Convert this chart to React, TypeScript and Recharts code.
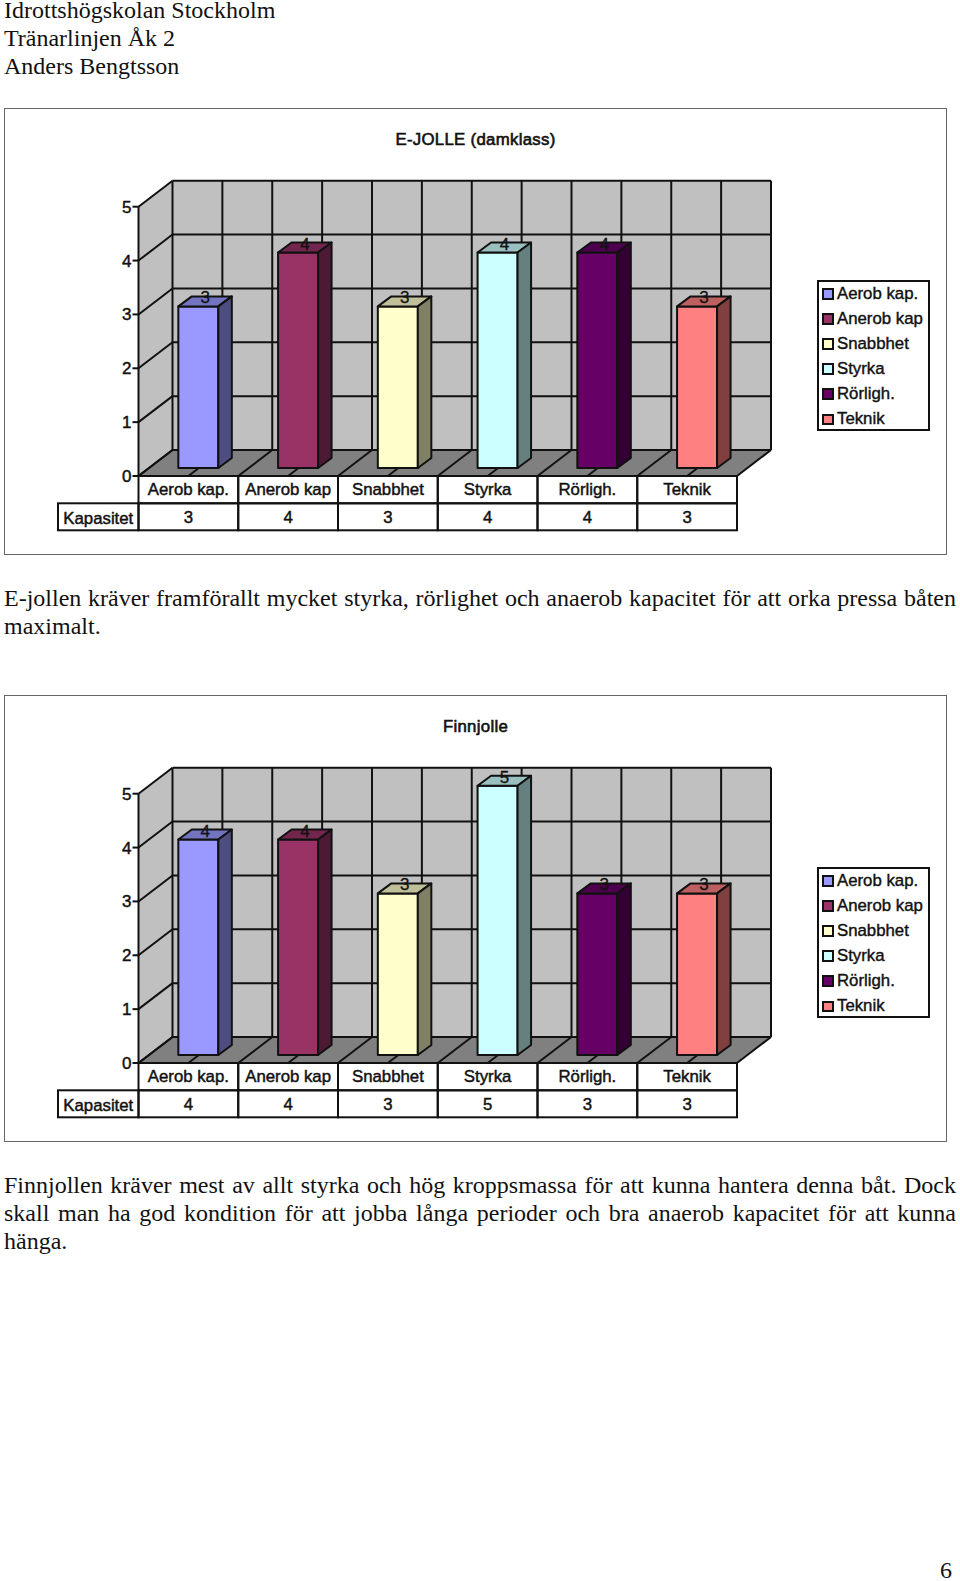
import React from "react";
import { BarChart, Bar, XAxis, YAxis, CartesianGrid, Legend, LabelList, Cell } from "recharts";

const categories = ["Aerob kap.", "Anerob kap", "Snabbhet", "Styrka", "Rörligh.", "Teknik"];
const colors = ["#9999FF", "#993366", "#FFFFCC", "#CCFFFF", "#660066", "#FF8080"];
const ejolleValues = [3, 4, 3, 4, 4, 3];
const finnjolleValues = [4, 4, 3, 5, 3, 3];
const yTicks = [0, 1, 2, 3, 4, 5];
const seriesName = "Kapasitet";

const headerLines = ["Idrottshögskolan Stockholm", "Tränarlinjen Åk 2", "Anders Bengtsson"];
const ejolleText = [
  "E-jollen kräver framförallt mycket styrka, rörlighet och anaerob kapacitet för att orka pressa båten",
  "maximalt.",
];
const finnjolleText = [
  "Finnjollen kräver mest av allt styrka och hög kroppsmassa för att kunna hantera denna båt. Dock",
  "skall man ha god kondition för att jobba långa perioder och bra anaerob kapacitet för att kunna",
  "hänga.",
];

const SANS = '"Liberation Sans", Arial, sans-serif';
const SERIF = '"Liberation Serif", "Times New Roman", serif';

// plot box (front plane of the 3D box), relative to the chart svg
const CHART_W = 960;
const CHART_H = 447;
const PLOT_L = 138.5;
const PLOT_R = 737;
const PLOT_T = 98.7;
const PLOT_B = 368;
const DEPTH_X = 34;
const DEPTH_Y = -26;
const BAND = (PLOT_R - PLOT_L) / 6;
const LINE = "#111";
const LINE_W = 2;

function shade(hex: string, k: number) {
  const n = parseInt(hex.slice(1), 16);
  const c = [(n >> 16) & 255, (n >> 8) & 255, n & 255].map((v) => Math.round(v * k));
  return `rgb(${c[0]},${c[1]},${c[2]})`;
}

// sits behind the transparent chart, the grid is drawn on top of it
function Walls() {
  const dx = DEPTH_X;
  const dy = DEPTH_Y;
  return (
    <svg width={CHART_W} height={CHART_H} style={{ position: "absolute", left: 0, top: 0 }}>
      <polygon
        points={`${PLOT_L + dx},${PLOT_T + dy} ${PLOT_R + dx},${PLOT_T + dy} ${PLOT_R + dx},${PLOT_B + dy} ${PLOT_L + dx},${PLOT_B + dy}`}
        fill="#C0C0C0"
      />
      <polygon
        points={`${PLOT_L},${PLOT_T} ${PLOT_L + dx},${PLOT_T + dy} ${PLOT_L + dx},${PLOT_B + dy} ${PLOT_L},${PLOT_B}`}
        fill="#C0C0C0"
      />
      <polygon
        points={`${PLOT_L},${PLOT_B} ${PLOT_R},${PLOT_B} ${PLOT_R + dx},${PLOT_B + dy} ${PLOT_L + dx},${PLOT_B + dy}`}
        fill="#808080"
      />
    </svg>
  );
}

function HLine(p: any) {
  return (
    <g key={p.key}>
      <line x1={p.x1} y1={p.y1} x2={p.x1 + DEPTH_X} y2={p.y1 + DEPTH_Y} stroke={LINE} strokeWidth={LINE_W} />
      <line x1={p.x1 + DEPTH_X} y1={p.y1 + DEPTH_Y} x2={p.x2 + DEPTH_X} y2={p.y1 + DEPTH_Y} stroke={LINE} strokeWidth={LINE_W} />
    </g>
  );
}

function VLine(p: any) {
  return (
    <g key={p.key}>
      <line x1={p.x1} y1={PLOT_B} x2={p.x1 + DEPTH_X} y2={PLOT_B + DEPTH_Y} stroke={LINE} strokeWidth={LINE_W} />
      <line x1={p.x1 + DEPTH_X} y1={PLOT_T + DEPTH_Y} x2={p.x1 + DEPTH_X} y2={PLOT_B + DEPTH_Y} stroke={LINE} strokeWidth={LINE_W} />
    </g>
  );
}

// cuboid bar: pushed a bit back into the box, with top and side faces
function Bar3D(props: any) {
  const { x, y, width, height, fill } = props;
  const fx = x + 10;
  const fy = y - 8;
  const sx = 13.5;
  const sy = -10;
  const stroke = { stroke: LINE, strokeWidth: LINE_W, strokeLinejoin: "round" as const };
  return (
    <g>
      <rect x={fx} y={fy} width={width} height={height} fill={fill} {...stroke} />
      <polygon
        points={`${fx},${fy} ${fx + sx},${fy + sy} ${fx + width + sx},${fy + sy} ${fx + width},${fy}`}
        fill={shade(fill, 0.75)}
        {...stroke}
      />
      <polygon
        points={`${fx + width},${fy} ${fx + width + sx},${fy + sy} ${fx + width + sx},${fy + height + sy} ${fx + width},${fy + height}`}
        fill={shade(fill, 0.5)}
        {...stroke}
      />
    </g>
  );
}

function BarValue(props: any) {
  const { x, y, width, value } = props;
  return (
    <text
      x={x + width / 2 + 17}
      y={y - 11}
      textAnchor="middle"
      fontFamily={SANS}
      fontSize={17}
      fill="#111"
      stroke="#111"
      strokeWidth={0.3}
    >
      {value}
    </text>
  );
}

function TableTick(props: any) {
  const { x, payload, values } = props;
  const l = x - BAND / 2;
  const y1 = PLOT_B;
  const y2 = PLOT_B + 27.3;
  const y3 = PLOT_B + 54.3;
  const text = { fontFamily: SANS, fontSize: 16.8, fill: "#111", stroke: "#111", strokeWidth: 0.45, textAnchor: "middle" as const };
  const box = { fill: "none", stroke: LINE, strokeWidth: LINE_W };
  return (
    <g>
      {payload.index === 0 && (
        <g>
          <rect x={58} y={y2} width={PLOT_L - 58} height={y3 - y2} {...box} />
          <text {...text} x={98.3} y={y2 + 21}>{seriesName}</text>
        </g>
      )}
      <rect x={l} y={y1} width={BAND} height={y2 - y1} {...box} />
      <rect x={l} y={y2} width={BAND} height={y3 - y2} {...box} />
      <text {...text} x={x} y={y1 + 19}>{payload.value}</text>
      <text {...text} x={x} y={y2 + 20}>{values[payload.index]}</text>
    </g>
  );
}

function YTick(props: any) {
  const { x, y, payload } = props;
  return (
    <text x={x} y={y + 6} textAnchor="end" fontFamily={SANS} fontSize={17} fill="#111" stroke="#111" strokeWidth={0.45}>
      {payload.value}
    </text>
  );
}

function ChartLegend() {
  return (
    <div
      style={{
        boxSizing: "border-box",
        width: 113.5,
        height: 151,
        background: "#fff",
        border: "2px solid #111",
        fontFamily: SANS,
        fontSize: 16.8,
        color: "#111",
        WebkitTextStroke: "0.4px #111",
      }}
    >
      {categories.map((c, i) => (
        <div key={c} style={{ position: "absolute", left: 5.5, top: 1.5 + i * 25.05, height: 25, display: "flex", alignItems: "center", whiteSpace: "nowrap" }}>
          <span
            style={{
              boxSizing: "border-box",
              display: "inline-block",
              width: 11.5,
              height: 11.5,
              background: colors[i],
              border: "2px solid #111",
              marginRight: 3.5,
            }}
          />
          {c}
        </div>
      ))}
    </div>
  );
}

interface BoatChartProps {
  title: string;
  values: number[];
  top: number;
}

function BoatChart({ title, values, top }: BoatChartProps) {
  const data = categories.map((name, i) => ({ name, value: values[i] }));
  return (
    <div style={{ position: "absolute", left: 0, top, width: CHART_W, height: CHART_H }}>
      <div
        style={{
          position: "absolute",
          left: 3.5,
          top: 0,
          width: 943,
          height: 447,
          boxSizing: "border-box",
          border: "1.5px solid #666",
        }}
      />
      <div
        style={{
          position: "absolute",
          left: 0,
          width: 951,
          top: 22,
          textAlign: "center",
          fontFamily: SANS,
          fontSize: 16.8,
          lineHeight: "20px",
          color: "#111",
          WebkitTextStroke: "0.6px #111",
          letterSpacing: 0.3,
        }}
      >
        {title}
      </div>
      <Walls />
      <BarChart
        width={CHART_W}
        height={CHART_H}
        data={data}
        barCategoryGap="29.9%"
        margin={{ top: PLOT_T, right: CHART_W - PLOT_R, bottom: CHART_H - PLOT_B - 60, left: PLOT_L - 30 }}
        style={{ position: "absolute", left: 0, top: 0 }}
      >
        <CartesianGrid
          horizontal={HLine}
          vertical={VLine}
          verticalPoints={Array.from({ length: 13 }, (_, i) => PLOT_L + (i * BAND) / 2)}
        />
        <XAxis
          dataKey="name"
          height={60}
          tickSize={0}
          tickMargin={0}
          interval={0}
          axisLine={false}
          tickLine={false}
          tick={<TableTick values={values} />}
        />
        <YAxis
          width={30}
          domain={[0, 5]}
          ticks={yTicks}
          interval={0}
          tickSize={6}
          tickMargin={1}
          axisLine={{ stroke: LINE, strokeWidth: LINE_W }}
          tickLine={{ stroke: LINE, strokeWidth: LINE_W }}
          tick={<YTick />}
        />
        <Legend
          layout="vertical"
          align="center"
          verticalAlign="middle"
          content={<ChartLegend />}
          wrapperStyle={{ left: 816.5, top: 172, width: 113.5, height: 151 }}
        />
        <Bar dataKey="value" name={seriesName} shape={<Bar3D />} isAnimationActive={false}>
          {data.map((d, i) => (
            <Cell key={d.name} fill={colors[i]} />
          ))}
          <LabelList dataKey="value" content={<BarValue />} />
        </Bar>
      </BarChart>
    </div>
  );
}

function TextLines({ lines, top }: { lines: string[]; top: number }) {
  return (
    <div style={{ position: "absolute", left: 4, top, width: 952, fontFamily: SERIF, fontSize: 24, lineHeight: "28px", color: "#111" }}>
      {lines.map((l, i) => (
        <div key={l} style={{ textAlign: i < lines.length - 1 ? "justify" : "left", textAlignLast: i < lines.length - 1 ? "justify" : "left", whiteSpace: "normal" }}>
          {l}
        </div>
      ))}
    </div>
  );
}

export default function App() {
  return (
    <div style={{ position: "absolute", left: 0, top: 0, width: 960, height: 1581, background: "#fff", overflow: "hidden" }}>
      {headerLines.map((l, i) => (
        <div
          key={l}
          style={{ position: "absolute", left: 4, top: 1 + i * 28, fontFamily: SERIF, fontSize: 24, lineHeight: "18px", whiteSpace: "nowrap", color: "#111" }}
        >
          {l}
        </div>
      ))}
      <BoatChart title="E-JOLLE (damklass)" values={ejolleValues} top={108} />
      <TextLines lines={ejolleText} top={584} />
      <BoatChart title="Finnjolle" values={finnjolleValues} top={695} />
      <TextLines lines={finnjolleText} top={1171} />
      <div style={{ position: "absolute", right: 8, top: 1560, fontFamily: SERIF, fontSize: 24, lineHeight: "20px", color: "#111" }}>6</div>
    </div>
  );
}
